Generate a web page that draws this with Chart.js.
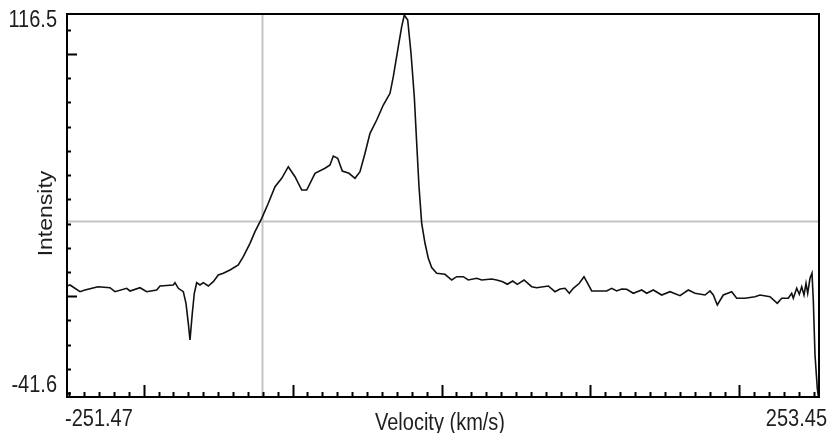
<!DOCTYPE html>
<html lang="en">
<head>
<meta charset="UTF-8">
<title>Velocity spectrum</title>
<script src="https://cdn.jsdelivr.net/npm/chart.js@4.4.1/dist/chart.umd.min.js"></script>
<style>
  html, body { margin: 0; padding: 0; background: #fff; }
  canvas { display: block; }
</style>
</head>
<body>
<canvas id="spectrum" width="836" height="433"></canvas>
<script>
// axis limits as printed on the chart
const xMin = -251.47
const xMax = 253.45
const yMin = -41.6
const yMax = 116.5

// cursor crosshair position
const cursorVelocity = -120.4
const cursorIntensity = 31.2

// tick marks drawn inside the frame
const xMinorTicks = Array.from({ length: 51 }, (_, i) => -250 + i * 10)
const xMajorTicks = [-200, -100, 0, 100, 200]
const yMinorTicks = [-40, -30, -20, -10, 0, 10, 20, 30, 40, 50, 60, 70, 80, 90, 100, 110]
const yMajorTicks = [0, 100]

// spectrum
const velocity = [
  -251.47, -249.46, -242.74, -239.38, -230.66, -222.60, -219.24, -211.39, -209.17, -202.46,
  -197.96, -191.24, -189.03, -180.10, -178.95, -176.74, -173.38, -171.57, -170.02, -168.88,
  -167.34, -166.00, -164.38, -162.17, -159.95, -156.60, -153.24, -149.88, -146.52, -142.03,
  -136.45, -133.10, -128.60, -125.24, -120.74, -116.31, -111.81, -107.31, -102.88, -98.38,
  -93.88, -90.53, -84.95, -78.24, -74.88, -72.67, -69.71, -66.62, -62.12, -58.10,
  -54.74, -51.38, -48.02, -43.52, -39.09, -34.59, -32.38, -29.02, -26.74, -24.99,
  -22.71, -20.49, -18.28, -16.67, -15.12, -13.31, -11.09, -8.88, -6.60, -3.24,
  2.33, 6.83, 10.19, 14.62, 17.98, 23.62, 26.98, 33.69, 37.05, 41.08,
  44.16, 47.79, 50.88, 55.38, 60.55, 63.90, 71.69, 76.19, 79.55, 82.91,
  85.79, 88.48, 92.51, 95.66, 97.48, 100.83, 110.90, 114.26, 117.62, 120.98,
  124.33, 128.77, 134.41, 137.76, 142.19, 147.83, 153.41, 160.12, 165.70, 170.19,
  176.91, 180.27, 182.48, 185.17, 189.20, 194.83, 198.19, 203.77, 210.48, 213.84,
  220.55, 225.45, 228.41, 232.84, 235.12, 236.20, 238.48, 240.23, 241.84, 243.38,
  244.72, 245.86, 247.41, 248.75, 249.62, 250.77, 252.31, 253.25
]
const intensity = [
  4.22, 4.63, 1.87, 2.57, 3.93, 3.52, 1.87, 3.27, 2.16, 3.52,
  1.87, 2.57, 4.22, 4.63, 5.58, 3.27, 1.87, -2.92, -11.18, -18.07,
  -7.05, 1.21, 5.58, 4.63, 5.58, 4.22, 6.00, 8.76, 9.46, 10.83,
  12.89, 16.32, 21.85, 26.64, 32.17, 38.36, 45.21, 48.68, 53.47, 49.34,
  43.85, 43.85, 50.74, 52.81, 54.17, 57.88, 56.93, 51.69, 50.74, 48.68,
  51.40, 59.00, 67.25, 72.74, 78.94, 83.77, 90.62, 103.00, 111.26, 116.09,
  114.02, 100.28, 82.36, 63.13, 45.21, 30.10, 21.85, 15.66, 11.86, 9.46,
  9.05, 6.70, 8.06, 8.06, 6.70, 7.40, 6.70, 7.11, 6.70, 6.00,
  4.92, 6.28, 4.92, 6.70, 3.93, 3.52, 4.22, 1.87, 2.98, 3.27,
  1.21, 3.27, 5.34, 8.06, 6.00, 2.16, 2.16, 3.27, 2.16, 2.98,
  2.86, 1.21, 2.57, 1.21, 2.57, 0.50, 1.87, 0.22, 2.57, 1.21,
  0.50, 2.16, 0.50, -3.62, 0.50, 1.87, -0.86, -0.86, -0.20, 0.50,
  -0.20, -2.92, -0.86, -0.86, 1.21, -0.86, 3.27, 0.79, 3.93, 0.50,
  5.34, 1.21, 7.40, 9.46, -1.56, -24.26, -38.01, -42.5
]

const FONT = '20px "Liberation Sans", Arial, sans-serif'
const STRETCH = 1.15 // the original text is a little taller than wide

function stretchedText(ctx, text, x, y, align, rotate) {
  ctx.save()
  ctx.translate(x, y)
  if (rotate) {
    ctx.rotate(-Math.PI / 2)
    ctx.scale(STRETCH, 1)
  } else {
    ctx.scale(1, STRETCH)
  }
  ctx.font = FONT
  ctx.fillStyle = "#1e1e1e"
  ctx.textAlign = align
  ctx.textBaseline = "alphabetic"
  ctx.fillText(text, 0, 0)
  ctx.restore()
}

const frame = {
  id: "frame",
  beforeDatasetsDraw(chart) {
    const { ctx, chartArea: a, scales } = chart
    const cx = Math.round(scales.x.getPixelForValue(cursorVelocity)) + 0.5
    const cy = Math.round(scales.y.getPixelForValue(cursorIntensity)) + 0.5
    ctx.save()
    ctx.strokeStyle = "#c4c4c4"
    ctx.lineWidth = 2
    ctx.beginPath()
    ctx.moveTo(cx, a.top)
    ctx.lineTo(cx, a.bottom)
    ctx.moveTo(a.left, cy)
    ctx.lineTo(a.right, cy)
    ctx.stroke()
    ctx.restore()
  },
  afterDraw(chart) {
    const { ctx, chartArea: a, scales } = chart
    ctx.save()
    ctx.strokeStyle = "#000"
    ctx.lineWidth = 2
    ctx.strokeRect(a.left, a.top, a.right - a.left, a.bottom - a.top)

    // inward ticks
    ctx.beginPath()
    for (const v of xMinorTicks) {
      const px = Math.round(scales.x.getPixelForValue(v)) + 0.5
      const len = xMajorTicks.includes(v) ? 12 : 5
      ctx.moveTo(px, a.bottom)
      ctx.lineTo(px, a.bottom - len)
    }
    for (const v of yMinorTicks) {
      const py = Math.round(scales.y.getPixelForValue(v)) + 0.5
      const len = yMajorTicks.includes(v) ? 10 : 4
      ctx.moveTo(a.left, py)
      ctx.lineTo(a.left + len, py)
    }
    ctx.stroke()
    ctx.restore()

    // only the end values are labelled
    stretchedText(ctx, String(yMax), a.left - 10, scales.y.getPixelForValue(yMax) + 12.7, "right")
    stretchedText(ctx, String(yMin), a.left - 10, scales.y.getPixelForValue(yMin) - 5.3, "right")
    stretchedText(ctx, String(xMin), scales.x.getPixelForValue(xMin) - 2, a.bottom + 29, "left")
    stretchedText(ctx, String(xMax), scales.x.getPixelForValue(xMax) + 8, a.bottom + 29, "right")
    stretchedText(ctx, "Velocity (km/s)", (a.left + a.right) / 2 - 3, a.bottom + 32.5, "center")
    stretchedText(ctx, "Intensity", 52, (a.top + a.bottom) / 2 + 8, "center", true)
  },
}

const points = velocity.map((v, i) => ({ x: v, y: intensity[i] }))

new Chart(document.getElementById("spectrum"), {
  type: "line",
  data: {
    datasets: [
      {
        data: points,
        borderColor: "#111",
        borderWidth: 1.6,
        pointRadius: 0,
        tension: 0,
        fill: false,
      },
    ],
  },
  options: {
    responsive: false,
    animation: false,
    events: [],
    layout: { padding: { top: 14, right: 17, left: 0, bottom: 0 } },
    plugins: { legend: { display: false }, tooltip: { enabled: false } },
    scales: {
      x: {
        type: "linear",
        min: xMin,
        max: xMax,
        grid: { display: false },
        border: { display: false },
        ticks: { display: false },
        afterFit: (s) => { s.height = 36 },
      },
      y: {
        type: "linear",
        min: yMin,
        max: yMax,
        grid: { display: false },
        border: { display: false },
        ticks: { display: false },
        afterFit: (s) => { s.width = 67 },
      },
    },
  },
  plugins: [frame],
})
</script>
</body>
</html>
